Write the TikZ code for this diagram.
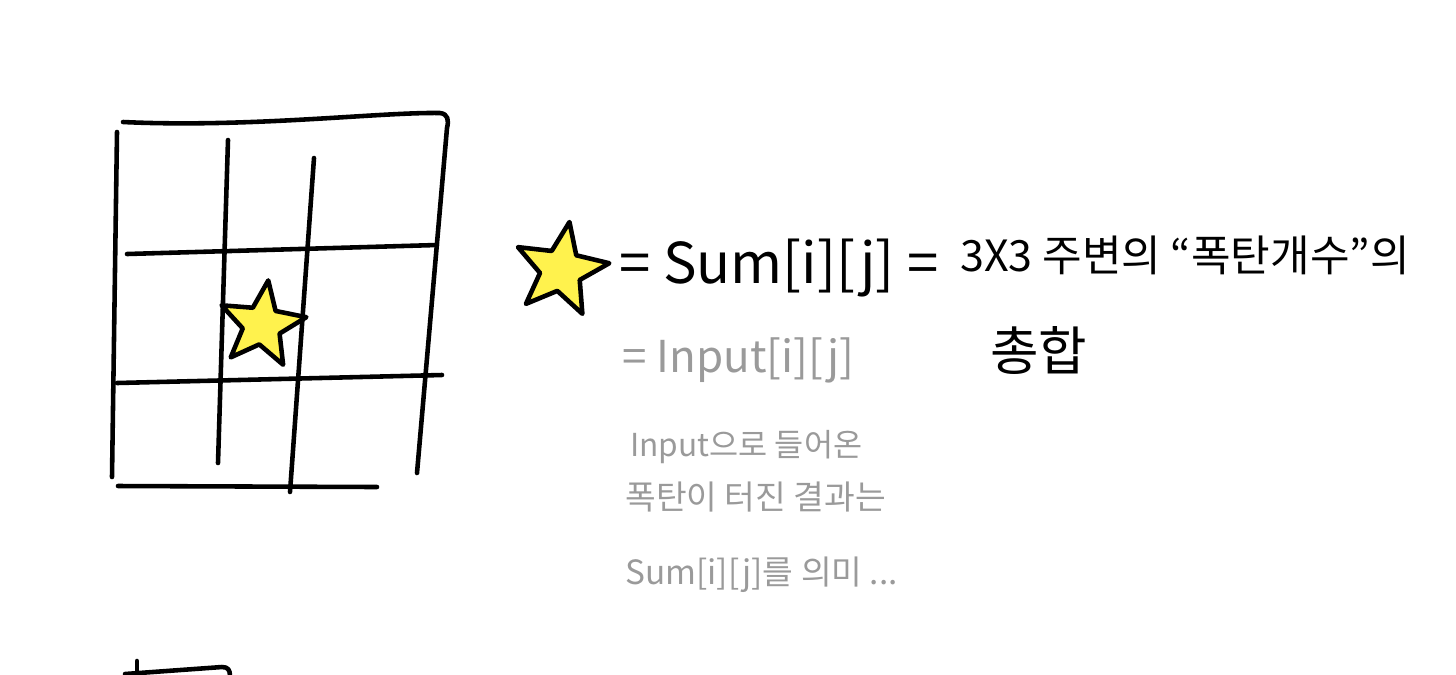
\documentclass[tikz,border=0pt]{standalone}
\usepackage{fontspec}
\setmainfont{Noto Sans CJK KR}
\usepackage{tikz}
\usetikzlibrary{shapes.geometric}

\definecolor{staryellow}{HTML}{FFF24D}
\definecolor{pencilgray}{HTML}{9A9A9A}

\tikzset{
    pen/.style={line width=2.6pt,line cap=round,line join=round},
    bigtext/.style={anchor=west,inner sep=0pt,font=\fontsize{32}{38}\selectfont},
    kortext/.style={anchor=west,inner sep=0pt,font=\fontsize{24.5}{30}\selectfont},
    graytext/.style={anchor=west,inner sep=0pt,text=pencilgray,font=\fontsize{19}{23}\selectfont},
    starmark/.style={star,star points=5,star point ratio=2.3,draw,pen,fill=staryellow,inner sep=0pt}
}

\begin{document}
\begin{tikzpicture}[x=0.02cm,y=-0.02cm]
    \useasboundingbox (0,0) rectangle (1456,674);
    % the 3x3 board
    \draw[pen] (123,122) .. controls (250,128) and (380,112) .. (440,113)
        .. controls (448,114) and (449,120) .. (447,128) -- (417,473);
    \draw[pen] (117,132) -- (112,477);
    \draw[pen] (118,486) -- (377,487);
    \draw[pen] (228,140) -- (218,463);
    \draw[pen] (314,158) -- (290,492);
    \draw[pen] (127,254) -- (437,245);
    \draw[pen] (117,383) -- (442,375);
    % the bomb in the middle
    \node[starmark,minimum size=1.8cm,rotate=-8] (cell) at (262,325) {};
    % what the star means
    \node[starmark,minimum size=1.95cm,rotate=-10] (key) at (561,270) {};
    \node[bigtext] (sumeq) at (619,268) {= Sum[i][j] =};
    \node[kortext] (around) at (960,255) {3X3 주변의 “폭탄개수”의};
    \node[kortext,font=\fontsize{30}{36}\selectfont] (total) at (990,350) {총합};
    \node[graytext,font=\fontsize{25}{30}\selectfont] (inputeq) at (622,360) {= Input[i][j]};
    \node[graytext,font=\fontsize{18}{22}\selectfont] (noteA) at (630,447) {Input으로 들어온};
    \node[graytext] (noteB) at (625,497) {폭탄이 터진 결과는};
    \node[graytext] (noteC) at (625,575) {Sum[i][j]를 의미 ...};
    % next board, cut off
    \draw[pen] (137,661) -- (137,680);
    \draw[pen] (125,674) -- (222,667) .. controls (228,667) and (230,670) .. (230,676);
\end{tikzpicture}
\end{document}
